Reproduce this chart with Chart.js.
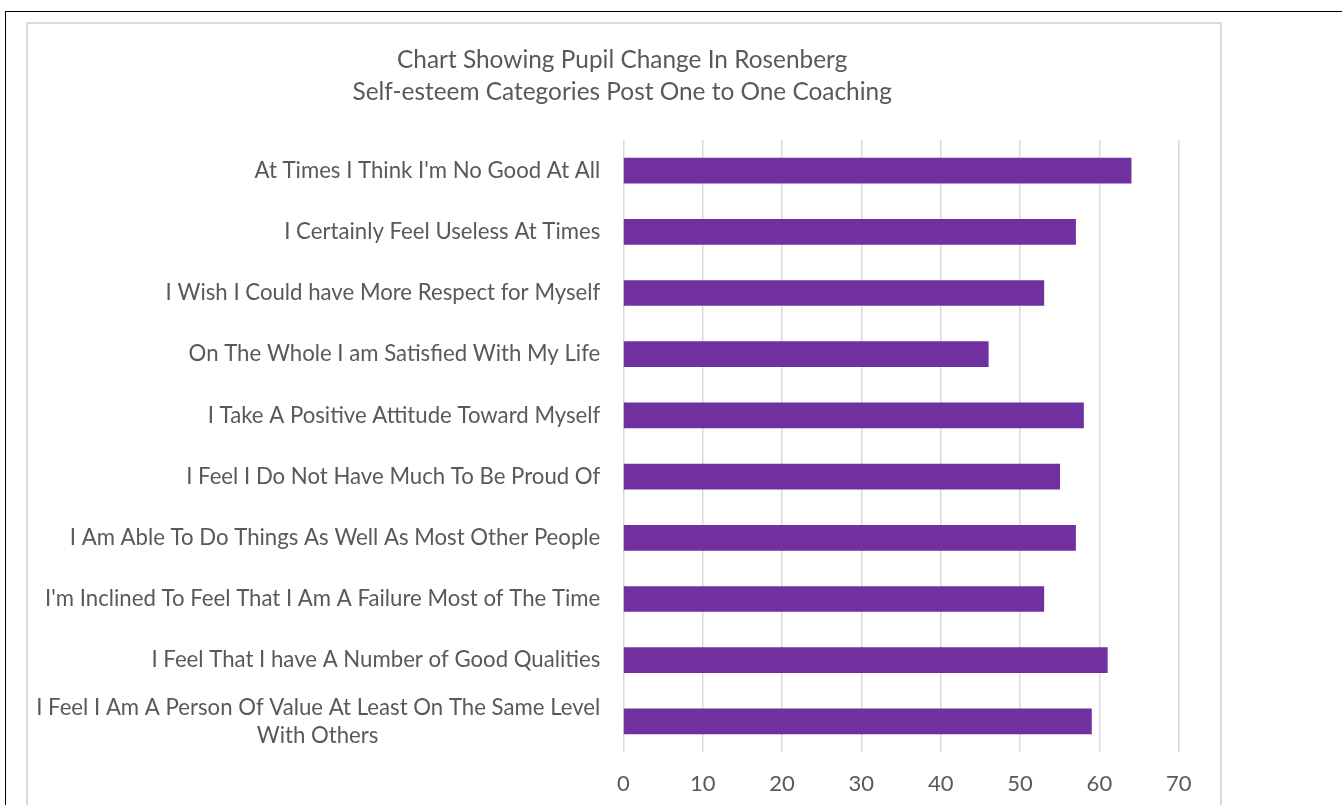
<!DOCTYPE html>
<html><head><meta charset="utf-8">
<script src="https://cdn.jsdelivr.net/npm/chart.js@4.4.1/dist/chart.umd.min.js"></script>
<style>
html,body{margin:0;padding:0;background:#fff;overflow:hidden}
#frame{position:absolute;left:5px;top:11px;width:1400px;height:900px;border-left:1.5px solid #000;border-top:1.5px solid #000}
#box{position:absolute;left:26px;top:22px;width:1192px;height:900px;border:2px solid #d9d9d9}
#wrap{position:absolute;left:0;top:0;width:1342px;height:805px}
</style></head><body>
<div id="frame"></div><div id="box"></div>
<div id="wrap"><canvas id="c"></canvas></div>
<script>
const titleLines = ["Chart Showing Pupil Change In Rosenberg", "Self-esteem Categories Post One to One Coaching"];
const categories = [
  "At Times I Think I'm No Good At All",
  "I Certainly Feel Useless At Times",
  "I Wish I Could have More Respect for Myself",
  "On The Whole I am Satisfied With My Life",
  "I Take A Positive Attitude Toward Myself",
  "I Feel I Do Not Have Much To Be Proud Of",
  "I Am Able To Do Things As Well As Most Other People",
  "I'm Inclined To Feel That I Am A Failure Most of The Time",
  "I Feel That I have A Number of Good Qualities",
  ["I Feel I Am A Person Of Value At Least On The Same Level", "With Others"]
];
const values = [64, 57, 53, 46, 58, 55, 57, 53, 61, 59];
const xTickStep = 10;
const xMax = 70;

const textColor = '#595959';
const fontFamily = 'Lato, "Open Sans", sans-serif';
const labelSize = 22.2;

// Centre the lines of wrapped labels relative to each other (as the original does),
// while the label block as a whole stays right-aligned to the axis.
const mctx = document.createElement('canvas').getContext('2d');
mctx.font = labelSize + 'px ' + fontFamily;
function centreLines(label) {
  if (!Array.isArray(label)) return label;
  const widths = label.map(l => mctx.measureText(l).width);
  const maxW = Math.max(...widths);
  const sp = mctx.measureText('\u200A').width || 1;
  return label.map((l, i) => l + '\u200A'.repeat(Math.round((maxW - widths[i]) / 2 / sp)));
}
const chartLabels = categories.map(centreLines);

new Chart(document.getElementById('c'), {
  type: 'bar',
  data: {
    labels: chartLabels,
    datasets: [{
      data: values,
      backgroundColor: '#7030A0',
      borderWidth: 0,
      barThickness: 25
    }]
  },
  options: {
    indexAxis: 'y',
    responsive: true,
    maintainAspectRatio: false,
    animation: false,
    layout: { padding: { left: 26, right: 123.6, top: 0, bottom: 0 } },
    plugins: {
      legend: { display: false },
      tooltip: { enabled: false },
      title: {
        display: true,
        text: titleLines,
        color: textColor,
        font: { family: fontFamily, size: 24.4, weight: 'normal', lineHeight: 32/24.4 },
        padding: { top: 44, bottom: 32 }
      }
    },
    scales: {
      y: {
        grid: { display: false, drawTicks: false },
        border: { display: false },
        ticks: { color: textColor, font: { family: fontFamily, size: labelSize, lineHeight: 28/labelSize }, padding: 23, autoSkip: false },
        afterFit(s) { s.width = 597.3; }
      },
      x: {
        type: 'linear',
        min: 0,
        max: xMax + 5,
        grid: { color: '#d9d9d9', lineWidth: 1.5, drawTicks: false },
        border: { display: false },
        ticks: { stepSize: xTickStep, includeBounds: false, color: textColor, font: { family: fontFamily, size: 22 }, padding: 19 },
        afterFit(s) { s.height = 53; }
      }
    }
  }
});
</script>
</body></html>
